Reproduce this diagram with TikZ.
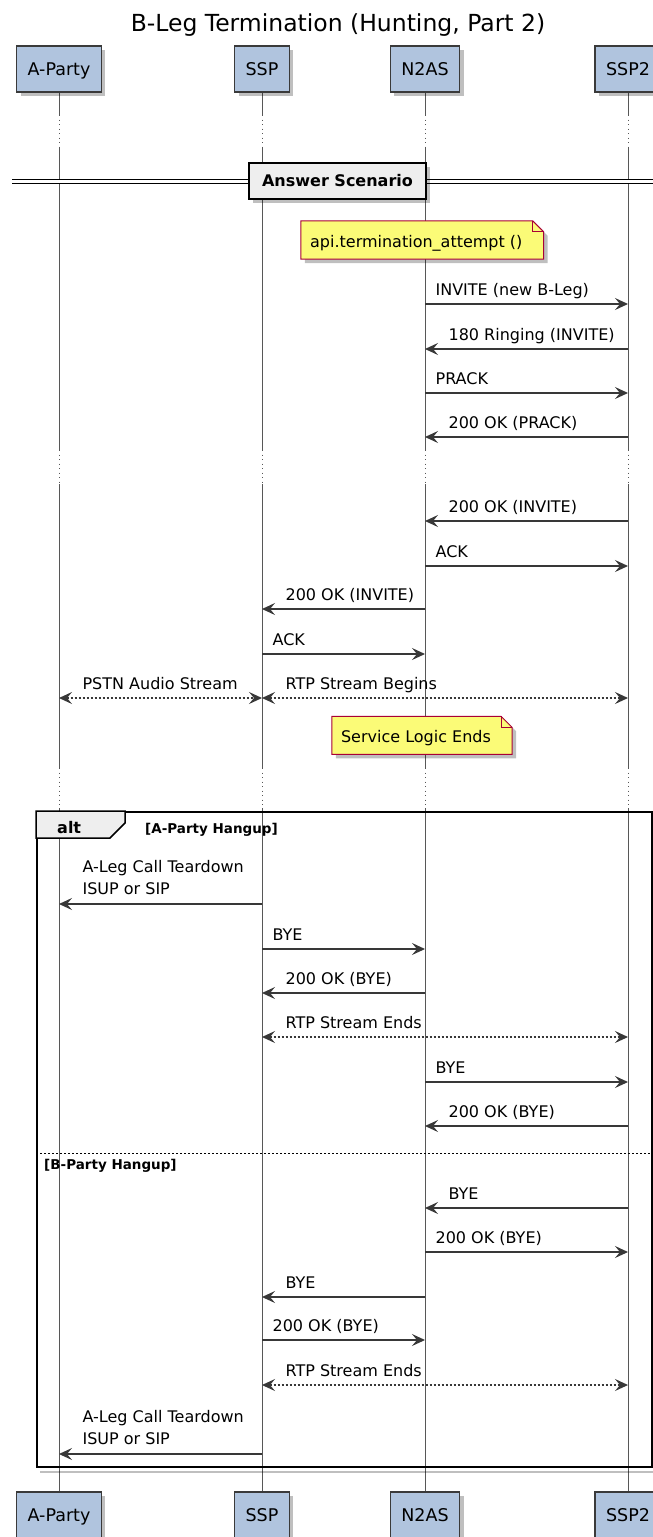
\documentclass[tikz,border=0pt]{standalone}
\usepackage{fontspec}
\setmainfont{DejaVu Sans}
\usepackage{tikz}
\usetikzlibrary{arrows.meta,calc,positioning,shadows}
\usepackage{xcolor}
\definecolor{partfill}{HTML}{B0C4DE}
\definecolor{partline}{HTML}{3A3A3A}
\definecolor{msgline}{HTML}{383838}
\definecolor{notefill}{HTML}{FBFB77}
\definecolor{noteline}{HTML}{A80036}
\definecolor{grpfill}{HTML}{EEEEEE}
\pgfdeclarelayer{bg}
\pgfsetlayers{bg,main}
\newcommand{\msgfont}{\fontsize{16}{22.5}\selectfont}
% folded note drawn behind its node
\newcommand{\notepath}[1]{%
  \begin{pgfonlayer}{bg}
    \fill[black,opacity=0.25,transform canvas={shift={(4pt,-4pt)}}] (#1.north west) -- ([xshift=1pt]#1.north east) -- ([xshift=12pt,yshift=-11pt]#1.north east) -- ([xshift=12pt]#1.south east) -- (#1.south west) -- cycle;
    \filldraw[fill=notefill,draw=noteline,line width=1pt] (#1.north west) -- ([xshift=1pt]#1.north east) -- ([xshift=12pt,yshift=-11pt]#1.north east) -- ([xshift=12pt]#1.south east) -- (#1.south west) -- cycle;
    \draw[noteline,line width=1pt] ([xshift=1pt]#1.north east) |- ([xshift=12pt,yshift=-11pt]#1.north east);
  \end{pgfonlayer}}

\begin{document}
\begin{tikzpicture}[x=1pt,y=-1pt,>={Stealth[length=13pt,width=12pt,inset=5pt]},
  part/.style={draw=partline,line width=1.2pt,fill=partfill,minimum height=46pt,inner xsep=11pt,
    text height=12.8pt,text depth=0pt,font=\fontsize{17.5}{20}\selectfont,
    drop shadow={shadow xshift=4pt,shadow yshift=-4pt,fill=black,opacity=0.25}},
  life/.style={draw=black!66,line width=0.9pt},
  gap/.style={life,dash pattern=on 1pt off 3.5pt},
  msg/.style={draw=msgline,line width=1.2pt},
  rtp/.style={msg,dash pattern=on 2pt off 2pt},
  lbl/.style={anchor=south west,inner sep=0pt,text depth=0pt,align=left,font=\msgfont,yshift=7.5pt},
  lblr/.style={lbl,pos=0,xshift=10pt},
  lbll/.style={lbl,pos=1,xshift=23pt},
  lblb/.style={lbl,pos=0,xshift=23pt},
  note/.style={minimum height=38pt,inner xsep=9pt,text height=14pt,text depth=0pt,font=\msgfont},
  grplbl/.style={anchor=base west,inner sep=0pt,font=\bfseries\fontsize{13.5}{16}\selectfont}]
  \useasboundingbox (0,0) rectangle (653,1537);

  \node[font=\fontsize{23.5}{28}\selectfont,anchor=base] (title) at (338,31.5) {B-Leg Termination (Hunting, Part 2)};

  % participants, top and bottom
  \node[part] (ap) at (59,69) {A-Party};
  \node[part] (ssp) at (262,69) {SSP};
  \node[part] (nas) at (425,69) {N2AS};
  \node[part] (ssp2) at (628,69) {SSP2};
  \node[part] (ap-b) at (59,1515) {A-Party};
  \node[part] (ssp-b) at (262,1515) {SSP};
  \node[part] (nas-b) at (425,1515) {N2AS};
  \node[part] (ssp2-b) at (628,1515) {SSP2};

  \begin{pgfonlayer}{bg}
    \foreach \p in {ap,ssp,nas,ssp2} {
      \draw[life] (\p.south) -- (\p |- 0,115) (\p |- 0,148) -- (\p |- 0,450) (\p |- 0,484) -- (\p |- 0,768) (\p |- 0,808) -- (\p-b.north);
      \draw[gap] (\p |- 0,115) -- (\p |- 0,148) (\p |- 0,450) -- (\p |- 0,484) (\p |- 0,768) -- (\p |- 0,808);
    }
  \end{pgfonlayer}

  % divider
  \draw[line width=1pt,double distance=3.5pt] (12,181.7) -- (653,181.7);
  \node[fill=grpfill,draw=black,line width=2pt,minimum width=177pt,minimum height=36pt,
    font=\bfseries\fontsize{16}{19}\selectfont,
    drop shadow={shadow xshift=4pt,shadow yshift=-4pt,fill=black,opacity=0.25}] (ans) at (337.5,181) {Answer Scenario};

  \node[note] (nt1) at (416.3,240) {api.termination\_attempt ()};
  \notepath{nt1}

  \draw[msg,->] (nas |- 0,304) -- node[lblr] {INVITE (new B-Leg)} (ssp2 |- 0,304);
  \draw[msg,->] (ssp2 |- 0,349) -- node[lbll] {180 Ringing (INVITE)} (nas |- 0,349);
  \draw[msg,->] (nas |- 0,393) -- node[lblr] {PRACK} (ssp2 |- 0,393);
  \draw[msg,->] (ssp2 |- 0,437) -- node[lbll] {200 OK (PRACK)} (nas |- 0,437);

  \draw[msg,->] (ssp2 |- 0,521) -- node[lbll] {200 OK (INVITE)} (nas |- 0,521);
  \draw[msg,->] (nas |- 0,566) -- node[lblr] {ACK} (ssp2 |- 0,566);
  \draw[msg,->] (nas |- 0,609) -- node[lbll] {200 OK (INVITE)} (ssp |- 0,609);
  \draw[msg,->] (ssp |- 0,654) -- node[lblr] {ACK} (nas |- 0,654);
  \draw[rtp,<->] (ap |- 0,698) -- node[lblb] {PSTN Audio Stream} (ssp |- 0,698);
  \draw[rtp,<->] (ssp |- 0,698) -- node[lblb] {RTP Stream Begins} (ssp2 |- 0,698);

  \node[note,minimum height=37.5pt] (nt2) at (416,735.3) {Service Logic Ends};
  \notepath{nt2}

  % alt group
  \node[draw=black,line width=2pt,minimum width=615pt,minimum height=655pt,anchor=north west,inner sep=0pt] (alt) at (36,811) {};
  \begin{pgfonlayer}{bg}
    \draw[black,opacity=0.25,line width=2pt,transform canvas={shift={(4pt,-4pt)}}] (alt.north east) -- (alt.south east) -- (alt.south west);
  \end{pgfonlayer}
  \filldraw[fill=grpfill,draw=black,line width=1.5pt] (alt.north west) -- ++(89,0) -- ++(0,12) -- ++(-15,15) -- ++(-74,0) -- cycle;
  \node[grplbl,font=\bfseries\fontsize{16}{19}\selectfont] (alttag) at (57,833) {alt};
  \node[grplbl] (case1) at (145,833) {[A-Party Hangup]};

  \draw[msg,->] (ssp |- 0,904) -- node[lbll,yshift=1pt] {A-Leg Call Teardown\\ISUP or SIP} (ap |- 0,904);
  \draw[msg,->] (ssp |- 0,949) -- node[lblr] {BYE} (nas |- 0,949);
  \draw[msg,->] (nas |- 0,993) -- node[lbll] {200 OK (BYE)} (ssp |- 0,993);
  \draw[rtp,<->] (ssp |- 0,1037) -- node[lblb] {RTP Stream Ends} (ssp2 |- 0,1037);
  \draw[msg,->] (nas |- 0,1082) -- node[lblr] {BYE} (ssp2 |- 0,1082);
  \draw[msg,->] (ssp2 |- 0,1126) -- node[lbll] {200 OK (BYE)} (nas |- 0,1126);

  \draw[black,line width=0.8pt,dash pattern=on 2pt off 2pt] (alt.west |- 0,1153) -- (alt.east |- 0,1153);
  \node[grplbl] (case2) at (44,1169) {[B-Party Hangup]};

  \draw[msg,->] (ssp2 |- 0,1208) -- node[lbll] {BYE} (nas |- 0,1208);
  \draw[msg,->] (nas |- 0,1252) -- node[lblr] {200 OK (BYE)} (ssp2 |- 0,1252);
  \draw[msg,->] (nas |- 0,1297) -- node[lbll] {BYE} (ssp |- 0,1297);
  \draw[msg,->] (ssp |- 0,1340) -- node[lblr] {200 OK (BYE)} (nas |- 0,1340);
  \draw[rtp,<->] (ssp |- 0,1385) -- node[lblb] {RTP Stream Ends} (ssp2 |- 0,1385);
  \draw[msg,->] (ssp |- 0,1454) -- node[lbll,yshift=1pt] {A-Leg Call Teardown\\ISUP or SIP} (ap |- 0,1454);
\end{tikzpicture}
\end{document}
